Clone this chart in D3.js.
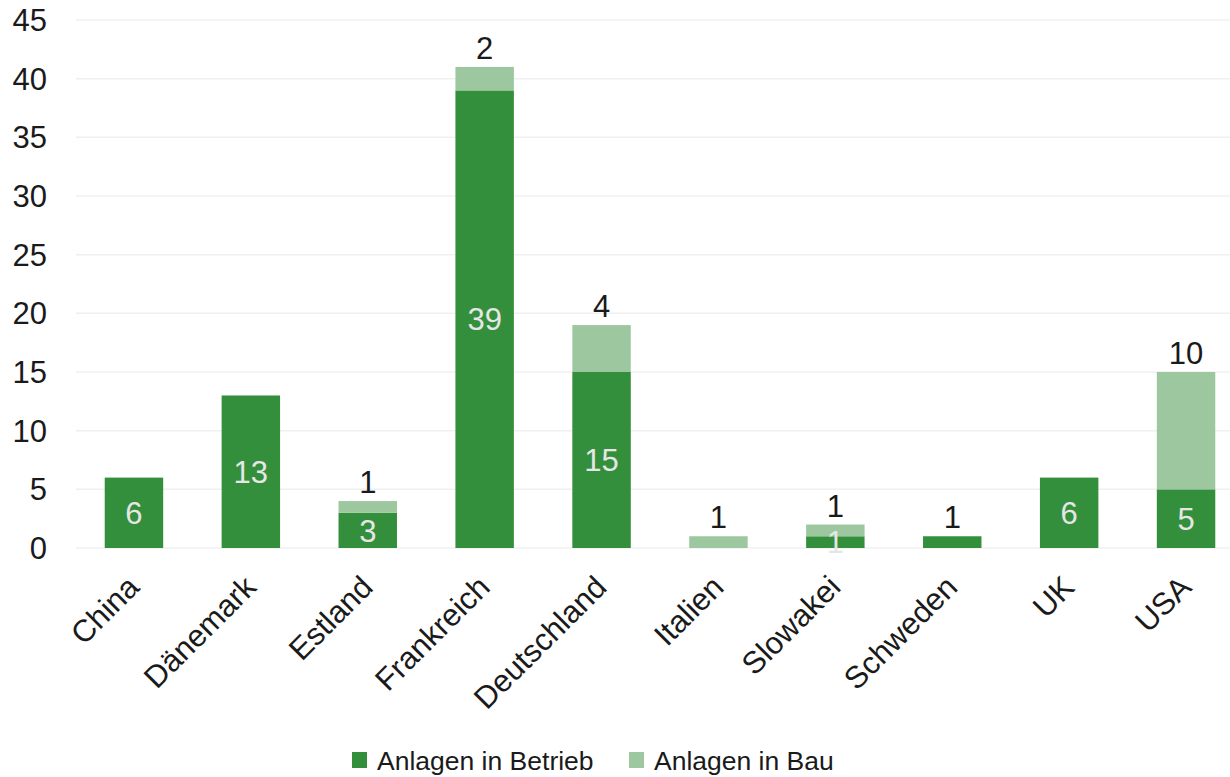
<!DOCTYPE html>
<html>
<head>
<meta charset="utf-8">
<script src="https://cdn.jsdelivr.net/npm/d3@7"></script>
<style>
  body { margin: 0; background: #fff; }
  svg text { font-family: "Liberation Sans", Arial, sans-serif; }
</style>
</head>
<body>
<svg id="chart" width="1230" height="777"></svg>
<script>
// data
var laender = ["China", "Dänemark", "Estland", "Frankreich", "Deutschland", "Italien", "Slowakei", "Schweden", "UK", "USA"];
var betrieb = [6, 13, 3, 39, 15, 0, 1, 1, 6, 5];
var bau = [0, 0, 1, 2, 4, 1, 1, 0, 0, 10];
var yTicks = [0, 5, 10, 15, 20, 25, 30, 35, 40, 45];
var serien = ["Anlagen in Betrieb", "Anlagen in Bau"];

var dunkel = "#348f3c", hell = "#9dc79e";
var fs = 31;

var svg = d3.select("#chart");

var x = d3.scaleBand()
    .domain(laender)
    .range([75.5, 1244.5])
    .paddingInner(0.5)
    .paddingOuter(0.25);

var y = d3.scaleLinear()
    .domain([0, 45])
    .range([548, 20]);

// grid
svg.append("g").selectAll("line")
    .data(yTicks)
    .enter().append("line")
    .attr("x1", 76).attr("x2", 1230)
    .attr("y1", function (d) { return y(d); })
    .attr("y2", function (d) { return y(d); })
    .attr("stroke", "#f0f0f0")
    .attr("stroke-width", 1.5);

// y tick labels
svg.append("g").selectAll("text")
    .data(yTicks)
    .enter().append("text")
    .attr("x", 47)
    .attr("y", function (d) { return y(d); })
    .attr("dy", "0.36em")
    .attr("text-anchor", "end")
    .attr("font-size", fs)
    .attr("fill", "#1a1a1a")
    .text(function (d) { return d; });

var rows = laender.map(function (l, i) {
    return { land: l, betrieb: betrieb[i], bau: bau[i] };
});

var g = svg.append("g");

// Betrieb bars
g.selectAll(".b1")
    .data(rows.filter(function (d) { return d.betrieb > 0; }))
    .enter().append("rect")
    .attr("x", function (d) { return x(d.land); })
    .attr("width", x.bandwidth())
    .attr("y", function (d) { return y(d.betrieb); })
    .attr("height", function (d) { return y(0) - y(d.betrieb); })
    .attr("fill", dunkel);

// Bau bars
g.selectAll(".b2")
    .data(rows.filter(function (d) { return d.bau > 0; }))
    .enter().append("rect")
    .attr("x", function (d) { return x(d.land); })
    .attr("width", x.bandwidth())
    .attr("y", function (d) { return y(d.betrieb + d.bau); })
    .attr("height", function (d) { return y(d.betrieb) - y(d.betrieb + d.bau); })
    .attr("fill", hell);

// labels inside Betrieb bars
g.selectAll(".l1")
    .data(rows.filter(function (d) { return d.betrieb > 0 && !(d.bau === 0 && d.betrieb < 2); }))
    .enter().append("text")
    .attr("x", function (d) { return x(d.land) + x.bandwidth() / 2; })
    .attr("y", function (d) { return y(d.betrieb / 2); })
    .attr("dy", "0.36em")
    .attr("text-anchor", "middle")
    .attr("font-size", fs)
    .attr("fill", "#e6e6e6")
    .text(function (d) { return d.betrieb; });

// labels above bars
g.selectAll(".l2")
    .data(rows.filter(function (d) { return d.bau > 0 || d.betrieb < 2; }))
    .enter().append("text")
    .attr("x", function (d) { return x(d.land) + x.bandwidth() / 2; })
    .attr("y", function (d) { return y(d.betrieb + d.bau) - 19; })
    .attr("dy", "0.36em")
    .attr("text-anchor", "middle")
    .attr("font-size", fs)
    .attr("fill", "#1a1a1a")
    .text(function (d) { return d.bau > 0 ? d.bau : d.betrieb; });

// category labels
svg.append("g").selectAll("text")
    .data(laender)
    .enter().append("text")
    .attr("text-anchor", "end")
    .attr("font-size", fs)
    .attr("fill", "#1a1a1a")
    .attr("transform", function (d) {
        var cx = x(d) + x.bandwidth() / 2 + 7;
        return "translate(" + cx + ",589) rotate(-45)";
    })
    .text(function (d) { return d; });

// legend
var legende = svg.append("g");
var lx = [352, 629];
serien.forEach(function (s, i) {
    legende.append("rect")
        .attr("x", lx[i]).attr("y", 752)
        .attr("width", 15).attr("height", 16)
        .attr("fill", i === 0 ? dunkel : hell);
    legende.append("text")
        .attr("x", lx[i] + 25).attr("y", 770)
        .attr("font-size", 26.5)
        .attr("fill", "#1a1a1a")
        .text(s);
});
</script>
</body>
</html>
